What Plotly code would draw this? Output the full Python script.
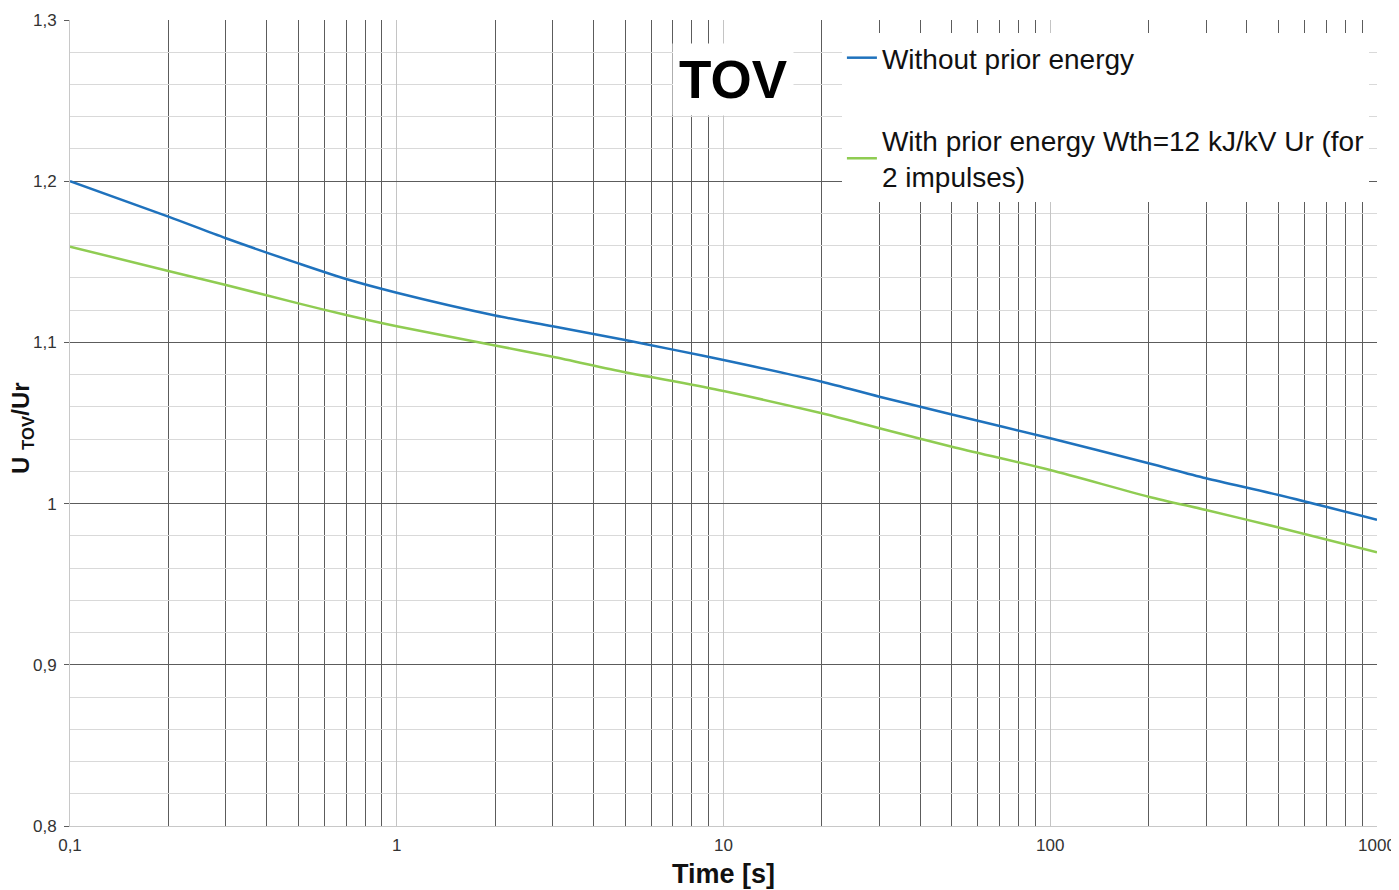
import plotly.graph_objects as go

# Time [s]
time_s = [0.1, 0.2, 0.3, 0.5, 0.7, 1, 2, 3, 5, 7, 10, 20, 30, 50, 100, 200, 300, 500, 1000]
# U_TOV / Ur without prior energy
u_without = [1.200, 1.178, 1.1646, 1.149, 1.1393, 1.1308, 1.1167, 1.110, 1.1015, 1.0955,
             1.0891, 1.0756, 1.0663, 1.0553, 1.0405, 1.025, 1.0157, 1.0053, 0.990]
# U_TOV / Ur with prior energy Wth=12 kJ/kV Ur
u_with = [1.1594, 1.1443, 1.1356, 1.1242, 1.117, 1.110, 1.0981, 1.0911, 1.0815, 1.076,
          1.0698, 1.056, 1.0467, 1.0353, 1.0208, 1.0043, 0.996, 0.9852, 0.9698]

name_without = "Without prior energy"
name_with = "With prior energy Wth=12 kJ/kV Ur (for<br>2 impulses)"

fig = go.Figure()
fig.add_trace(go.Scatter(x=time_s, y=u_without, mode="lines", name=name_without,
                         legendgroup="a",
                         line=dict(color="#1f72bd", width=2.5, shape="spline", smoothing=0.8)))
fig.add_trace(go.Scatter(x=time_s, y=u_with, mode="lines", name=name_with,
                         legendgroup="b",
                         line=dict(color="#8fcc52", width=2.5, shape="spline", smoothing=0.8)))

font = "Liberation Sans, Arial, sans-serif"
# the page body has an 8px margin, so the figure is 8px smaller and shifted margins
fig.update_layout(
    width=1391, height=882,
    margin=dict(l=62, r=22, t=12, b=64, autoexpand=False),
    plot_bgcolor="white", paper_bgcolor="white",
    separators=", ",
    font=dict(family=font, size=17, color="#333333"),
    showlegend=True,
    legend=dict(x=0.5906, y=0.9839, xanchor="left", yanchor="top",
                bgcolor="white", borderwidth=0, font=dict(size=28, color="#111111"),
                tracegroupgap=43, itemwidth=30),
    xaxis=dict(type="log", range=[-1, 3], dtick=1, automargin=False,
               tickfont=dict(size=17, color="#333333"),
               title=dict(text="<b>Time [s]</b>", font=dict(size=27, color="#111111"), standoff=9),
               showgrid=True, gridcolor="#c4c4c4", gridwidth=1,
               minor=dict(showgrid=True, gridcolor="#5c5c5c", gridwidth=1, dtick="D1"),
               showline=True, linecolor="#c8c8c8", linewidth=1,
               ticks="", ticklabelstandoff=4, zeroline=False),
    yaxis=dict(range=[0.8, 1.3], dtick=0.1, automargin=False,
               tickfont=dict(size=17, color="#333333"),
               showgrid=True, gridcolor="#5c5c5c", gridwidth=1,
               minor=dict(showgrid=True, gridcolor="#d9d9d9", gridwidth=1, dtick=0.02),
               showline=True, linecolor="#c8c8c8", linewidth=1,
               ticks="outside", ticklen=5, tickcolor="#5c5c5c", ticklabelstandoff=4,
               zeroline=False),
    annotations=[
        dict(text="<b>TOV</b>", x=0.5073, y=0.9256, xref="paper", yref="paper",
             xanchor="center", yanchor="middle",
             showarrow=False, font=dict(size=53, color="black"), bgcolor="white",
             borderpad=6),
        dict(text="<b>U <sub>TOV</sub>/Ur</b>", x=-0.036, y=0.4938, xref="paper", yref="paper",
             xanchor="center", yanchor="middle", textangle=-90,
             showarrow=False, font=dict(size=24, color="#111111")),
    ],
)

fig.write_html("out.html")
